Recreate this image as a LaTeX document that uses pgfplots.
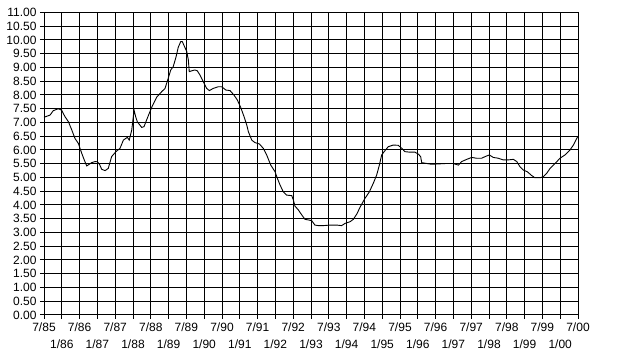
\documentclass[border=0pt]{standalone}
\usepackage{pgfplots}
\pgfplotsset{compat=1.18}
\usepackage{fontspec}
\setmainfont{Liberation Sans}
\begin{document}
\begin{tikzpicture}[x=1pt,y=1pt]
\path[use as bounding box] (0,0) rectangle (625,356);
\begin{axis}[
  at={(44pt,41pt)}, anchor=south west,
  scale only axis, width=534pt, height=302.5pt,
  xmin=0, xmax=30, ymin=0, ymax=11,
  xtick={0,2,4,6,8,10,12,14,16,18,20,22,24,26,28,30},
  xticklabels={7/85,7/86,7/87,7/88,7/89,7/90,7/91,7/92,7/93,7/94,7/95,7/96,7/97,7/98,7/99,7/00},
  extra x ticks={1,3,5,7,9,11,13,15,17,19,21,23,25,27,29},
  extra x tick labels={1/86,1/87,1/88,1/89,1/90,1/91,1/92,1/93,1/94,1/95,1/96,1/97,1/98,1/99,1/00},
  extra x tick style={grid=major, xticklabel style={yshift=-17pt}},
  ytick={0,0.5,1,1.5,2,2.5,3,3.5,4,4.5,5,5.5,6,6.5,7,7.5,8,8.5,9,9.5,10,10.5,11},
  grid=major, grid style={black, line width=1pt},
  axis line style={black, line width=1pt},
  tick style={black, line width=1pt},
  tick align=outside, major tick length=4pt,
  xtick pos=left, ytick pos=left,
  yticklabel style={/pgf/number format/.cd, fixed, fixed zerofill, precision=2, assume math mode=true},
  ticklabel style={font=\fontsize{12}{13}\selectfont},
  clip=false,
]
\addplot[black, line width=0.9pt] coordinates {
(0.00,7.19) (0.34,7.27) (0.52,7.43) (0.80,7.50) (0.99,7.45) (1.18,7.21) (1.37,7.03)
(1.56,6.73) (1.74,6.42) (1.93,6.24) (2.12,5.88) (2.26,5.64) (2.40,5.42) (2.68,5.54)
(2.87,5.58) (2.99,5.57) (3.11,5.49) (3.24,5.30) (3.43,5.25) (3.61,5.33) (3.80,5.76)
(4.04,5.94) (4.27,6.06) (4.46,6.36) (4.68,6.46) (4.79,6.36) (4.93,6.73) (5.06,7.45)
(5.15,7.21) (5.24,7.03) (5.49,6.82) (5.62,6.85) (5.80,7.15) (6.05,7.55) (6.33,7.92)
(6.61,8.12) (6.80,8.24) (6.98,8.61) (7.12,8.91) (7.26,9.03) (7.42,9.39) (7.54,9.73)
(7.68,9.94) (7.77,9.94) (7.88,9.78) (8.02,9.58) (8.11,9.27) (8.16,8.85) (8.30,8.88)
(8.48,8.91) (8.61,8.88) (8.76,8.73) (8.95,8.48) (9.14,8.24) (9.29,8.16) (9.51,8.24)
(9.79,8.30) (9.98,8.30) (10.22,8.18) (10.45,8.16) (10.67,8.00) (10.86,7.82) (11.05,7.55)
(11.24,7.21) (11.39,6.91) (11.48,6.67) (11.67,6.36) (11.85,6.27) (12.10,6.22) (12.32,6.06)
(12.51,5.82) (12.74,5.45) (12.98,5.21) (13.11,4.97) (13.26,4.73) (13.44,4.48) (13.63,4.36)
(13.92,4.34) (14.01,4.18) (14.10,3.96) (14.29,3.82) (14.48,3.64) (14.66,3.48) (14.90,3.45)
(15.04,3.43) (15.22,3.27) (15.41,3.25) (15.69,3.25) (16.07,3.27) (16.44,3.27) (16.72,3.25)
(16.91,3.33) (17.19,3.39) (17.38,3.48) (17.57,3.67) (17.79,3.96) (18.03,4.24) (18.28,4.48)
(18.50,4.79) (18.69,5.09) (18.84,5.45) (18.97,5.82) (19.16,5.98) (19.34,6.12) (19.62,6.18)
(19.90,6.17) (20.10,6.06) (20.28,5.94) (20.56,5.92) (20.84,5.92) (21.03,5.85) (21.16,5.76)
(21.22,5.54) (21.50,5.51) (21.78,5.48) (22.06,5.49) (22.34,5.50) (22.62,5.51) (22.99,5.51)
(23.28,5.45) (23.47,5.58) (23.75,5.66) (24.03,5.73) (24.31,5.70) (24.59,5.70) (24.78,5.76)
(25.02,5.82) (25.24,5.73) (25.52,5.70) (25.80,5.64) (26.08,5.64) (26.37,5.66) (26.56,5.58)
(26.74,5.39) (26.93,5.27) (27.15,5.21) (27.40,5.07) (27.58,4.99) (27.87,4.99) (28.05,5.03)
(28.24,5.15) (28.43,5.33) (28.71,5.51) (28.99,5.70) (29.27,5.82) (29.55,6.00) (29.74,6.18)
(29.93,6.42) (29.98,6.48)
};
\end{axis}
\end{tikzpicture}
\end{document}
